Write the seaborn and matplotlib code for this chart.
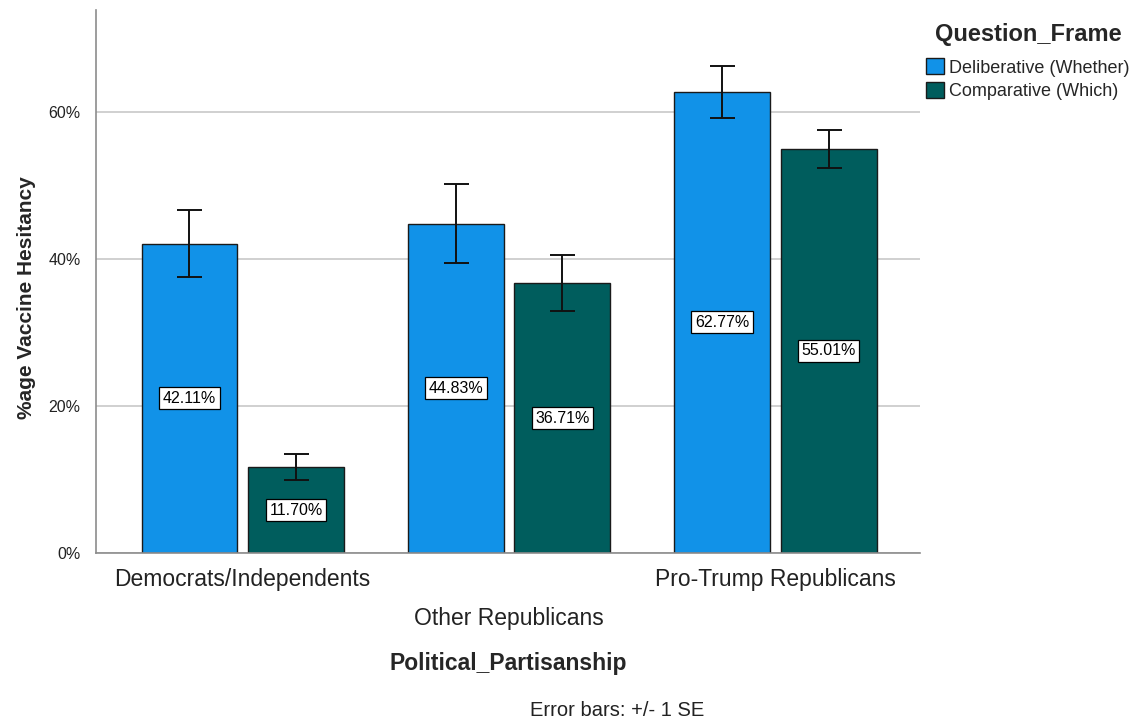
import matplotlib
matplotlib.use("Agg")
import matplotlib.pyplot as plt
import seaborn as sns
import pandas as pd
from matplotlib.ticker import FuncFormatter

# Group labels and series
partisanship = ["Democrats/Independents", "Other Republicans", "Pro-Trump Republicans"]
frames = ["Deliberative (Whether)", "Comparative (Which)"]
deliberative = [42.11, 44.83, 62.77]
comparative = [11.70, 36.71, 55.01]
# standard errors (percentage points)
se_deliberative = [4.6, 5.4, 3.55]
se_comparative = [1.8, 3.8, 2.55]

palette = ["#1192e8", "#005d5d"]

df = pd.DataFrame({
    "Political_Partisanship": partisanship * 2,
    "Question_Frame": [frames[0]] * 3 + [frames[1]] * 3,
    "Hesitancy": deliberative + comparative,
    "SE": se_deliberative + se_comparative,
})

sns.set_theme(style="white")
plt.rcParams["font.family"] = ["Liberation Sans", "DejaVu Sans"]

fig = plt.figure(figsize=(11.4, 7.2), dpi=100)
ax = fig.add_axes([96 / 1140, 1 - 553 / 720, (920 - 96) / 1140, (553 - 10) / 720])

sns.barplot(
    data=df, x="Political_Partisanship", y="Hesitancy", hue="Question_Frame",
    order=partisanship, hue_order=frames, palette=palette, errorbar=None,
    width=0.8, gap=0.1, saturation=1, edgecolor="#1a1a1a", linewidth=1.0, ax=ax,
)

# error bars and centred value labels for each hue container
for container, frame in zip(ax.containers, frames):
    sub = df[df["Question_Frame"] == frame].set_index("Political_Partisanship").loc[partisanship]
    xs = [p.get_x() + p.get_width() / 2 for p in container.patches]
    ax.errorbar(xs, sub["Hesitancy"], yerr=sub["SE"], fmt="none", ecolor="#111111",
                elinewidth=1.4, capsize=9, capthick=1.4, zorder=5)
    ax.bar_label(container, labels=[f"{v:.2f}%" for v in sub["Hesitancy"]],
                 label_type="center", fontsize=11.5, color="black",
                 bbox=dict(boxstyle="square,pad=0.22", facecolor="white",
                           edgecolor="black", linewidth=0.9))

ax.set_xlim(-0.551, 2.543)
ax.set_ylim(0, 73.9)
ax.set_yticks([0, 20, 40, 60])
ax.yaxis.set_major_formatter(FuncFormatter(lambda v, _: f"{v:.0f}%"))
ax.grid(axis="y", color="#c8c8c8", linewidth=1.2)
ax.set_axisbelow(True)

for side in ["top", "right"]:
    ax.spines[side].set_visible(False)
for side in ["left", "bottom"]:
    ax.spines[side].set_color("#8c8c8c")
    ax.spines[side].set_linewidth(1.2)

ax.tick_params(axis="y", length=0, labelsize=11.5, labelcolor="#222222", pad=11)
ax.tick_params(axis="x", length=0, labelsize=16.5, labelcolor="#222222", pad=11)
# stagger the middle category label onto a second row
ax.xaxis.get_major_ticks()[1].set_pad(11 + 28)

ax.set_xlabel("Political_Partisanship", fontsize=16.5, fontweight="bold", labelpad=16)
ax.set_ylabel("%age Vaccine Hesitancy", fontsize=15, fontweight="bold")
ax.yaxis.set_label_coords(-0.073, 0.47)

leg = ax.legend(title="Question_Frame", loc="upper left", bbox_to_anchor=(0.988, 1.006),
                frameon=False, fontsize=13, title_fontsize=17, handlelength=0.98,
                handleheight=0.98, handletextpad=0.3, labelspacing=0.3,
                borderaxespad=0.5)
leg.get_title().set_fontweight("bold")
leg._legend_box.sep = 9
for h in leg.legend_handles:
    h.set_edgecolor("#1a1a1a")
    h.set_linewidth(1.0)

fig.text(617 / 1140, 1 - 711 / 720, "Error bars: +/- 1 SE", ha="center", va="center",
         fontsize=14.5, color="#222222")

fig.savefig("out.png", dpi=100)
